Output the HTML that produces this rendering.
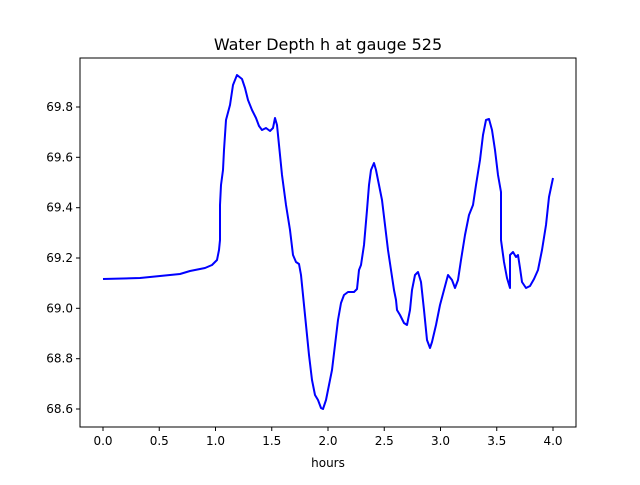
<!DOCTYPE html>
<html><head><style>body{margin:0;background:#fff}</style></head><body>
<svg width="640" height="480" xmlns="http://www.w3.org/2000/svg" font-family="DejaVu Sans, Liberation Sans, sans-serif">
<rect width="640" height="480" fill="#fff"/>
<text x="328" y="50" font-size="16" text-anchor="middle">Water Depth h at gauge 525</text>
<polyline fill="none" stroke="#0000ff" stroke-width="2" stroke-linejoin="round" points="103,279 140,278 180,274 190,271 205,268 212,265 217,260 219,250 220,240 220,205 221,185 223,170 224,150 226,120 230,105 233,85 237,75 242,79 245,88 248,100 252,110 256,118 259,126 262,130 266,128 270,131 273,128 275,118 277,125 279,145 282,175 286,205 290,230 293,255 296,262 299,264 301,275 303,295 306,325 309,355 312,380 315,395 318,400 321,408 323,409 326,400 329,385 332,370 335,345 338,320 341,303 344,295 348,292 354,292 357,289 359,270 361,265 364,245 367,210 369,185 371,170 374,163 376,170 379,185 382,200 385,225 388,250 391,270 394,290 396,300 397,310 400,315 404,323 407,325 410,310 412,290 415,275 418,272 421,282 424,310 427,340 430,348 432,342 436,325 440,305 444,290 448,275 452,280 455,288 458,280 461,260 465,235 469,215 473,205 476,185 480,160 483,135 486,120 489,119 492,130 495,150 498,175 501,192 501,205 501,240 504,262 507,278 510,288 510,255 513,252 516,257 518,255 520,268 522,282 526,288 530,286 534,279 538,270 542,250 546,225 549,197 553,178"/>
<rect x="80" y="58" width="496" height="369" fill="none" stroke="#000" stroke-width="1"/>
<g stroke="#000" stroke-width="1">
<line x1="103" y1="427" x2="103" y2="431"/><line x1="159.25" y1="427" x2="159.25" y2="431"/><line x1="215.5" y1="427" x2="215.5" y2="431"/><line x1="271.75" y1="427" x2="271.75" y2="431"/><line x1="328" y1="427" x2="328" y2="431"/><line x1="384.25" y1="427" x2="384.25" y2="431"/><line x1="440.5" y1="427" x2="440.5" y2="431"/><line x1="496.75" y1="427" x2="496.75" y2="431"/><line x1="553" y1="427" x2="553" y2="431"/>
<line x1="76" y1="409" x2="80" y2="409"/><line x1="76" y1="358.7" x2="80" y2="358.7"/><line x1="76" y1="308.3" x2="80" y2="308.3"/><line x1="76" y1="258" x2="80" y2="258"/><line x1="76" y1="207.7" x2="80" y2="207.7"/><line x1="76" y1="157.3" x2="80" y2="157.3"/><line x1="76" y1="107" x2="80" y2="107"/>
</g>
<g font-size="12" text-anchor="middle">
<text x="103" y="445">0.0</text><text x="159.25" y="445">0.5</text><text x="215.5" y="445">1.0</text><text x="271.75" y="445">1.5</text><text x="328" y="445">2.0</text><text x="384.25" y="445">2.5</text><text x="440.5" y="445">3.0</text><text x="496.75" y="445">3.5</text><text x="553" y="445">4.0</text>
<text x="328" y="467">hours</text>
</g>
<g font-size="12" text-anchor="end">
<text x="73" y="413">68.6</text><text x="73" y="362.7">68.8</text><text x="73" y="312.3">69.0</text><text x="73" y="262">69.2</text><text x="73" y="211.7">69.4</text><text x="73" y="161.3">69.6</text><text x="73" y="111">69.8</text>
</g>
</svg>
</body></html>
